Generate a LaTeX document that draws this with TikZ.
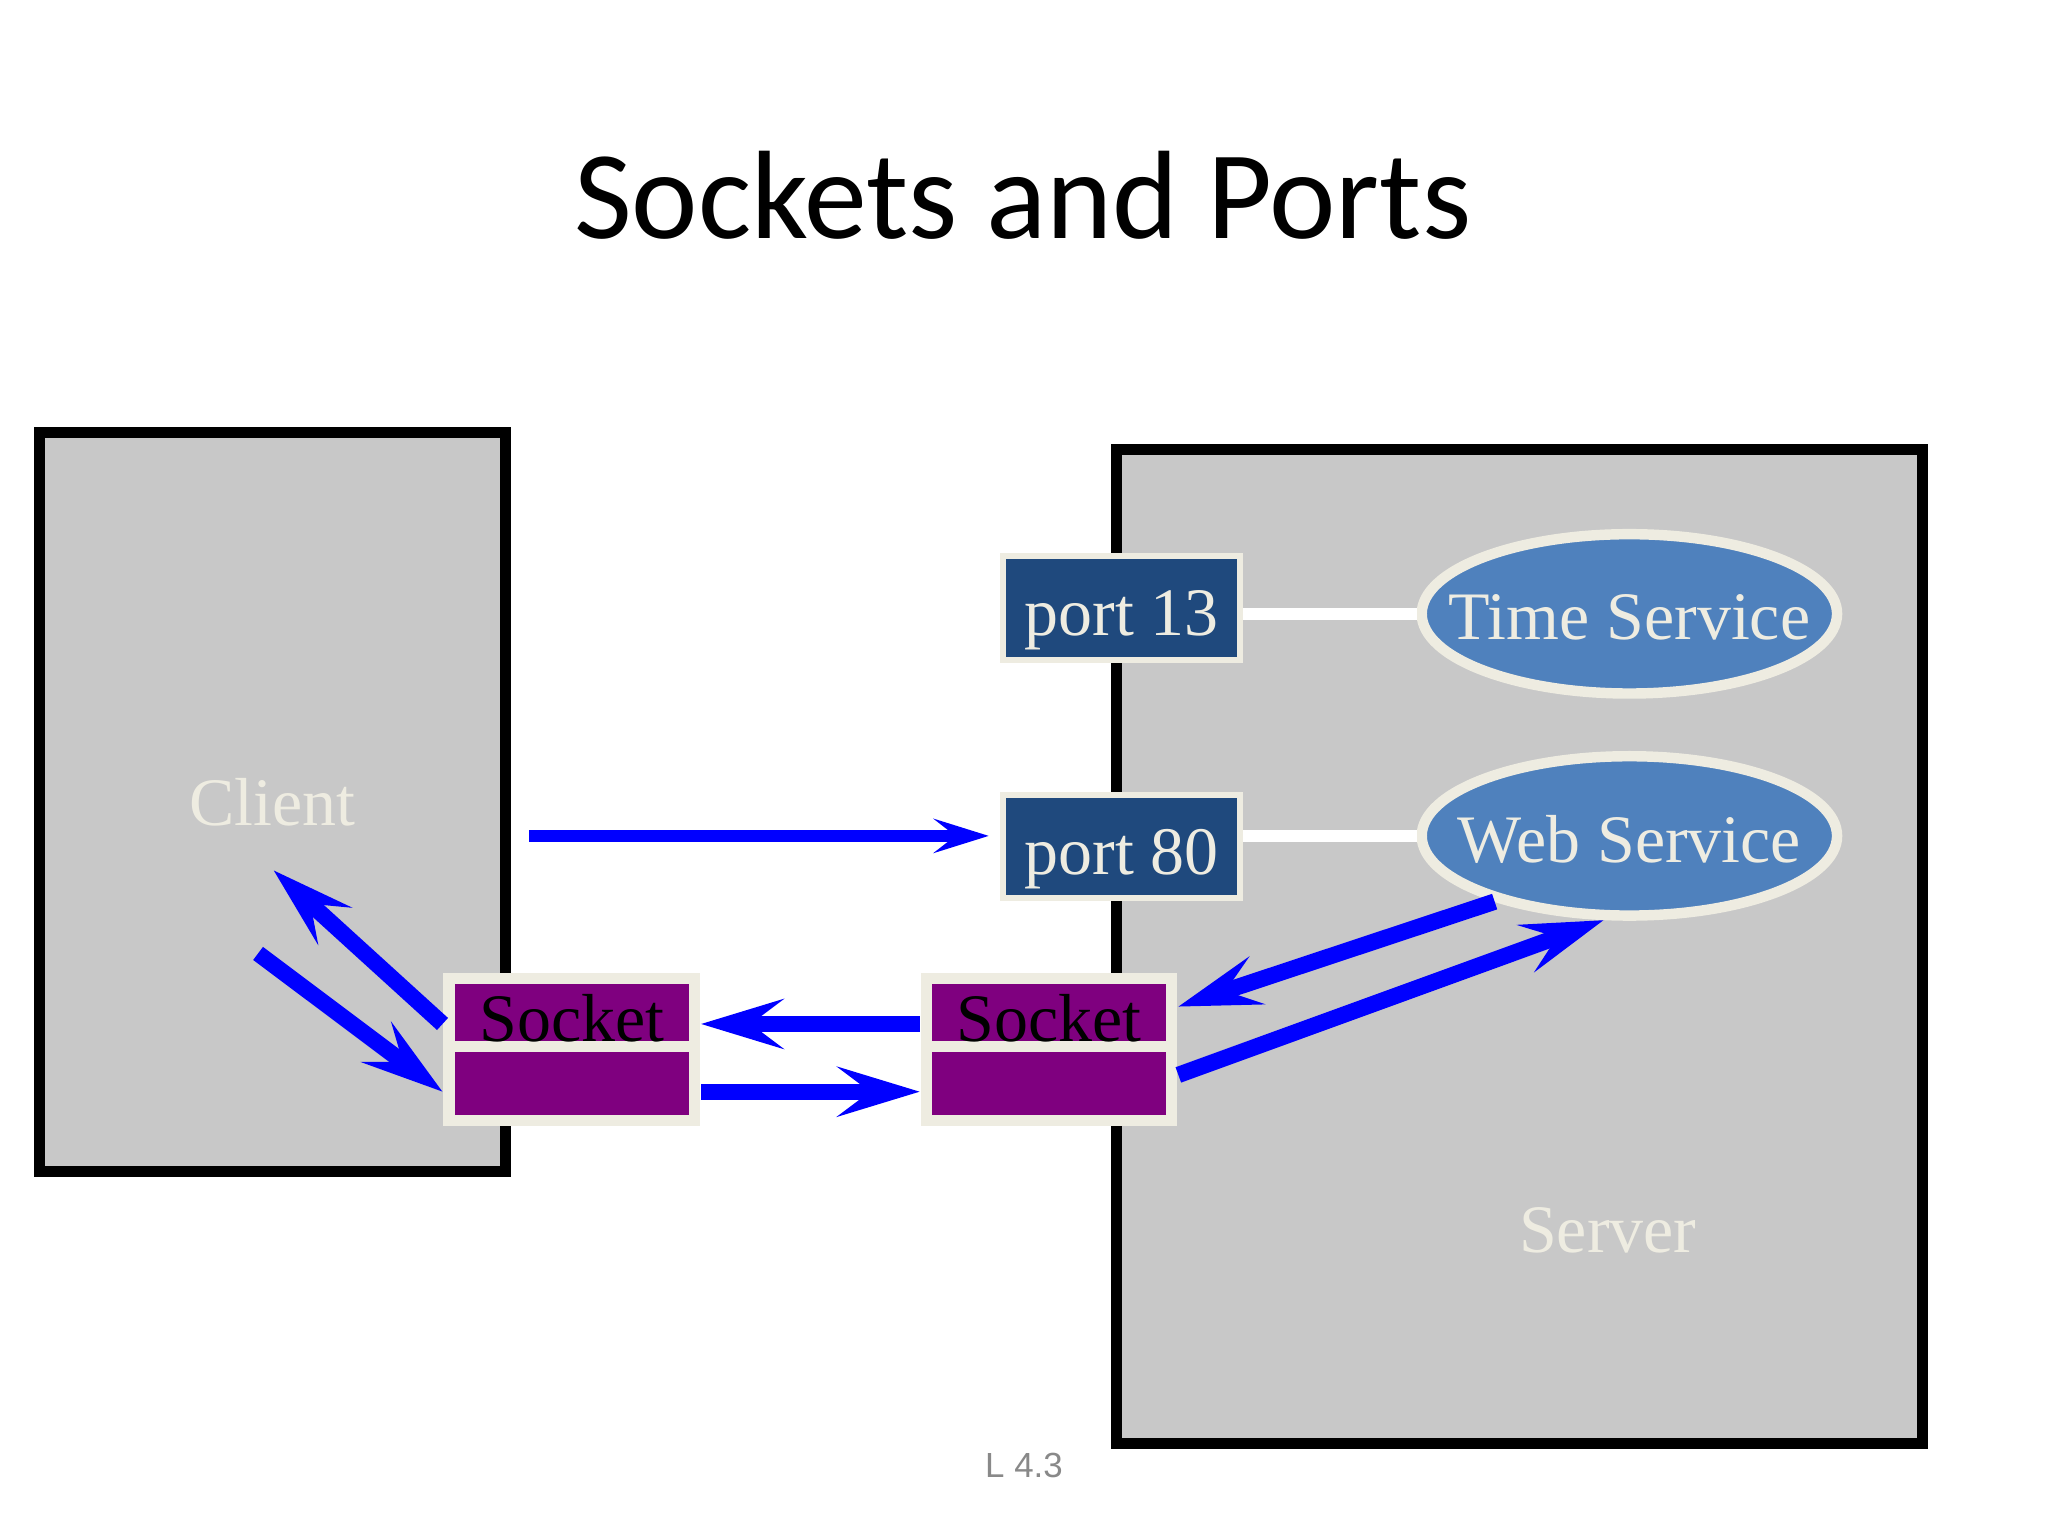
\documentclass[tikz,border=0pt]{standalone}
\usepackage{fontspec}
\setmainfont{Liberation Serif}
\newfontfamily\titlefont{Carlito}
\newfontfamily\slidefont{Liberation Sans}
\usetikzlibrary{positioning,arrows.meta,shapes.geometric}
\definecolor{hostgray}{HTML}{C8C8C8}
\definecolor{paper}{HTML}{EEECE1}
\definecolor{portblue}{HTML}{1F497D}
\definecolor{serviceblue}{HTML}{4F81BD}
\definecolor{sockpurple}{HTML}{7F007F}
\definecolor{numgray}{HTML}{898989}
\newcommand{\labelsize}{\fontsize{14.8pt}{17pt}\selectfont}

\begin{document}
\begin{tikzpicture}[
    host/.style={draw=black, line width=0.085cm, fill=hostgray, inner sep=0pt},
    portbox/.style={draw=paper, line width=0.045cm, fill=portblue, text=paper,
      minimum width=1.816cm, minimum height=0.79cm, inner sep=0pt,
      text height=0.54cm, text depth=0.12cm, font=\labelsize},
    service/.style={ellipse, draw=paper, line width=0.08cm, fill=serviceblue,
      minimum width=3.18cm, minimum height=1.22cm, inner sep=0pt},
    svctext/.style={text=paper, font=\labelsize},
    sockbox/.style={fill=paper, minimum width=1.965cm, minimum height=1.173cm,
      inner sep=0pt},
    wire/.style={draw=white, line width=0.09cm},
    fatarrow/.style={draw=blue, line width=0.125cm,
      -{Stealth[length=0.63cm, width=0.38cm, inset=0.25cm]}},
    thinarrow/.style={draw=blue, line width=0.09cm,
      -{Stealth[length=0.42cm, width=0.26cm, inset=0.165cm]}}
  ]
    \useasboundingbox (0,0) rectangle (15.68,11.76);

    \node[font=\titlefont\fontsize{27.4pt}{32pt}\selectfont, anchor=base] (title)
      at (7.83,9.93) {Sockets and Ports};

    \node[host, minimum width=6.17cm, minimum height=7.61cm] (server) at (11.635,4.515) {};
    \node[svctext, anchor=base] (serverlabel) at (12.31,2.17) {Server};
    \node[host, text=paper, font=\labelsize, minimum width=3.57cm, minimum height=5.66cm]
      (client) at (2.085,5.62) {Client};

    \node[portbox] (p13) at (8.588,7.105) {port 13};
    \node[portbox] (p80) at (8.588,5.2775) {port 80};
    \node[service] (time) at (12.475,7.06) {};
    \node[svctext] (time-label) at ([yshift=-0.025cm]time.center) {Time Service};
    \node[service] (web) at (12.475,5.36) {};
    \node[svctext] (web-label) at ([yshift=-0.025cm]web.center) {Web Service};
    \draw[wire] (p13.east |- time.west) -- (time.west);
    \draw[wire] (p80.east |- web.west) -- (web.west);

    \foreach \s/\x in {sockL/4.3775, sockR/8.032} {
      \node[sockbox] (\s) at (\x,3.7265) {};
      \fill[sockpurple] ([shift={(-0.894,0.4995)}]\s.center) rectangle
        ([shift={(0.894,0.0635)}]\s.center);
      \fill[sockpurple] ([shift={(-0.894,-0.0235)}]\s.center) rectangle
        ([shift={(0.894,-0.5025)}]\s.center);
      \node[font=\labelsize, anchor=base] (\s-label) at ([yshift=0.0575cm]\s.center) {Socket};
    }

    \coordinate (toport) at ([yshift=-0.26cm]client.east);
    \coordinate (cup) at (2.095,5.096);
    \coordinate (cdown) at (1.976,4.46);

    \draw[thinarrow, shorten <=0.14cm, shorten >=0.087cm] (toport) -- (toport -| p80.west);
    \draw[fatarrow] ([yshift=0.1935cm]sockR.west) -- ([yshift=0.1935cm]sockL.east);
    \draw[fatarrow] ([yshift=-0.325cm]sockL.east) -- ([yshift=-0.325cm]sockR.west);
    \draw[fatarrow] ([yshift=0.1935cm]sockL.west) -- (cup);
    \draw[fatarrow] (cdown) -- ([yshift=-0.325cm]sockL.west);
    \draw[fatarrow] (web.206) -- ([yshift=0.3265cm]sockR.east);
    \draw[fatarrow] ([yshift=-0.1965cm]sockR.east) -- (web.253);

    \node[font=\slidefont\fontsize{7.6pt}{9pt}\selectfont, text=numgray, anchor=base]
      (slideno) at (7.84,0.445) {L 4.3};
  \end{tikzpicture}
\end{document}
